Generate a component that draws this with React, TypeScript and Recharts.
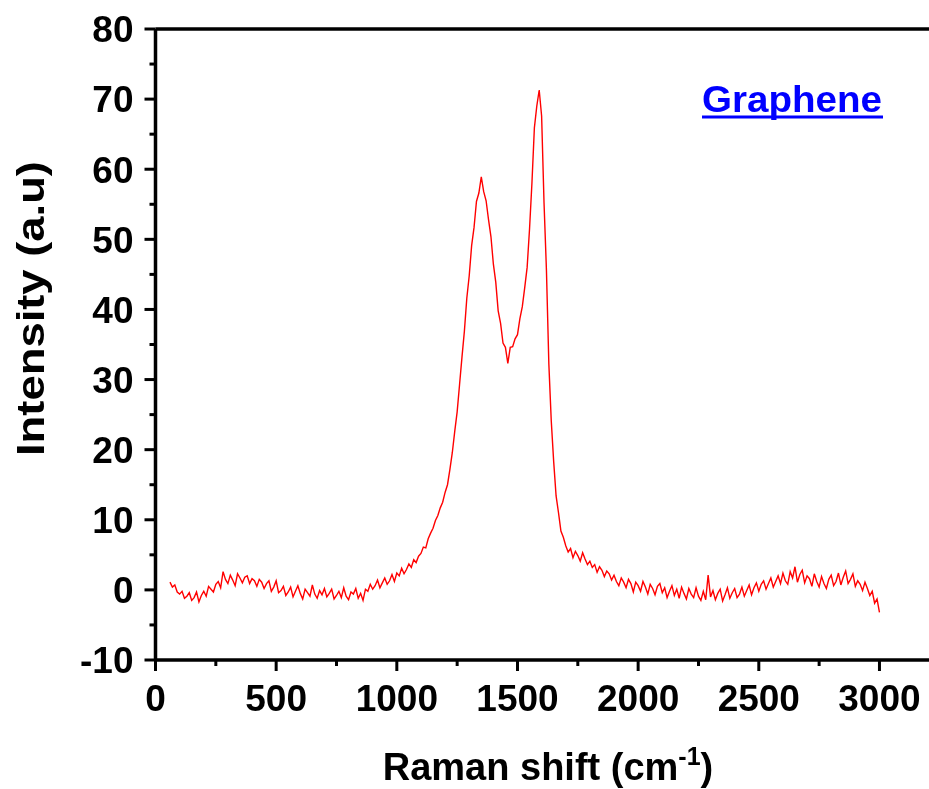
import React from 'react';
import { LineChart, Line, XAxis, YAxis, ReferenceLine, Label } from 'recharts';

// Raman shift sampling: 60 ... 3000 cm-1, every 10 cm-1
const SHIFT_START = 60;
const SHIFT_STEP = 10;

// Intensity (a.u), rows grouped by hundreds of cm-1
const intensity: number[] = [
  1.1, 0.4, 0.7, -0.3, // 60-90
  -0.6, -0.2, -1.2, -0.9, -0.4, -1.5, -1.1, -0.3, -1.7, -0.8, // 100
  -0.2, -0.9, 0.5, 0.1, -0.3, 0.8, 1.2, 0.3, 2.6, 1.5, // 200
  0.9, 2.1, 1.4, 0.6, 2.3, 1.7, 1.0, 1.8, 2.0, 0.9, // 300
  1.6, 1.3, 0.5, 1.5, 1.1, 0.2, 0.9, 1.3, -0.2, 0.4, // 400
  1.3, -0.4, -0.1, 0.5, -0.8, -0.3, 0.4, -1.0, -0.2, 0.6, // 500
  -0.5, -1.3, 0.1, -0.4, -0.9, 0.7, -0.6, -1.2, -0.1, -0.7, // 600
  0.2, -1.0, -0.5, 0.1, -1.3, -0.8, -0.2, -1.1, 0.3, -0.9, // 700
  -1.4, -0.3, -0.6, 0.2, -1.2, -0.5, -1.5, 0.1, -0.2, 0.8, // 800
  0.1, 0.6, 1.4, 0.3, 1.0, 1.7, 0.8, 1.3, 2.2, 1.2, // 900
  2.4, 2.0, 3.1, 2.3, 2.9, 3.7, 3.2, 4.3, 3.9, 4.8, // 1000
  5.2, 6.1, 6.0, 7.3, 8.1, 8.8, 9.9, 10.6, 11.7, 12.5, // 1100
  13.9, 15.0, 17.2, 19.6, 22.6, 25.4, 29.3, 33.2, 36.9, 41.6, // 1200
  44.8, 49.1, 51.7, 55.4, 56.6, 58.9, 56.8, 55.5, 52.8, 50.4, // 1300
  46.5, 43.9, 39.8, 38.0, 35.2, 34.6, 32.3, 34.6, 34.7, 35.8, // 1400
  36.4, 38.7, 40.4, 43.1, 46.0, 51.5, 58.1, 65.9, 69.0, 71.3, // 1500
  67.6, 55.2, 45.6, 32.2, 24.1, 18.3, 13.4, 11.0, 8.4, 7.5, // 1600
  6.3, 5.4, 5.9, 4.6, 5.5, 4.9, 4.1, 5.3, 4.4, 3.6, // 1700
  4.1, 3.2, 3.6, 2.5, 3.3, 2.8, 1.9, 2.7, 2.3, 1.4, // 1800
  2.1, 1.2, 0.6, 1.7, 1.1, 0.3, 1.5, 0.9, -0.3, 1.1, // 1900
  0.6, -0.2, 1.2, 0.4, -0.6, 0.8, 0.2, -0.7, 0.5, 0.9, // 2000
  -0.4, 0.3, -1.1, -0.2, 0.6, -0.8, 0.1, -1.2, 0.4, -0.5, // 2100
  -1.3, 0.2, -0.6, -1.1, 0.3, -0.9, -1.5, -0.2, -1.4, 2.1, // 2200
  -1.0, -0.1, -1.4, -0.5, 0.1, -1.6, -0.7, 0.3, -1.2, -0.4, // 2300
  0.2, -1.1, -0.6, 0.4, -0.9, -0.1, 0.7, -0.7, 0.3, 1.0, // 2400
  -0.2, 0.8, 1.3, 0.1, 0.9, 1.7, 0.4, 1.2, 2.0, 0.9, // 2500
  2.4, 1.3, 0.8, 2.6, 1.7, 3.3, 1.1, 2.2, 2.8, 1.0, // 2600
  2.0, 1.6, 0.5, 2.3, 1.2, 0.4, 1.9, 0.9, 0.2, 1.5, // 2700
  2.1, 0.6, 1.2, 2.4, 0.7, 1.8, 2.7, 0.9, 1.5, 2.3, // 2800
  0.5, 1.3, 0.8, -0.1, 1.1, 0.2, -0.8, -0.2, -1.9, -1.3, // 2900
  -3.2, // 3000
];

const xTicks = [0, 250, 500, 750, 1000, 1250, 1500, 1750, 2000, 2250, 2500, 2750, 3000];
const yTicks = [-10, -5, 0, 5, 10, 15, 20, 25, 30, 35, 40, 45, 50, 55, 60, 65, 70, 75, 80];
const X_DOMAIN: [number, number] = [0, 3284];
const Y_DOMAIN: [number, number] = [-10, 80];

const X_TITLE = 'Raman shift (cm';
const X_TITLE_SUP = '-1';
const Y_TITLE = 'Intensity (a.u)';
const SAMPLE_LABEL = 'Graphene';

const data = intensity.map((v, i) => ({ shift: SHIFT_START + i * SHIFT_STEP, intensity: v }));

const FONT = '"Liberation Sans", Arial, Helvetica, sans-serif';

const XTick = (props: any) => {
  const { x, y, payload } = props;
  const v = payload.value;
  const major = v % 500 === 0;
  return (
    <g>
      <line x1={x} x2={x} y1={y} y2={y + (major ? 11 : 6)} stroke="#000" strokeWidth={3} />
      {major && (
        <text x={x} y={y + 51} textAnchor="middle" fontFamily={FONT} fontWeight="bold" fontSize={37} fill="#000">
          {v}
        </text>
      )}
    </g>
  );
};

const YTick = (props: any) => {
  const { x, y, payload } = props;
  const v = payload.value;
  const major = v % 10 === 0;
  return (
    <g>
      <line x1={x} x2={x - (major ? 11 : 6)} y1={y} y2={y} stroke="#000" strokeWidth={3} />
      {major && (
        <text x={x - 22} y={y} dy="0.36em" textAnchor="end" fontFamily={FONT} fontWeight="bold" fontSize={37} fill="#000">
          {v}
        </text>
      )}
    </g>
  );
};

const XTitle = () => (
  <text x={540} y={772} textAnchor="middle" fontFamily={FONT} fontWeight="bold" fontSize={38} fill="#000">
    {X_TITLE}
    <tspan fontSize={25} dy={-15}>{X_TITLE_SUP}</tspan>
    <tspan fontSize={38} dy={15}>)</tspan>
  </text>
);

const YTitle = () => (
  <text
    x={22}
    y={300.5}
    transform="rotate(-90 22 300.5)"
    textAnchor="middle"
    dy="0.36em"
    fontFamily={FONT}
    fontWeight="bold"
    fontSize={38}
    fill="#000"
    textLength={295}
    lengthAdjust="spacingAndGlyphs"
  >
    {Y_TITLE}
  </text>
);

const SampleTag = () => (
  <g>
    <text x={694} y={104} fontFamily={FONT} fontWeight="bold" fontSize={37} fill="#0000ff" textLength={180} lengthAdjust="spacingAndGlyphs">
      {SAMPLE_LABEL}
    </text>
    <rect x={694} y={107.5} width={181} height={3} fill="#0000ff" />
  </g>
);

export default function App() {
  return (
    <div style={{ position: 'fixed', left: 8, top: 8, width: 921, height: 781, overflow: 'hidden' }}>
      <LineChart width={940} height={781} data={data} margin={{ top: 21, right: 0, bottom: 49, left: 47.5 }}>
        <XAxis
          dataKey="shift"
          type="number"
          domain={X_DOMAIN}
          allowDataOverflow
          ticks={xTicks}
          interval={0}
          tickSize={0}
          tickMargin={0}
          tickLine={false}
          tick={XTick}
          axisLine={{ stroke: '#000', strokeWidth: 3.5 }}
          height={80}
        >
          <Label content={XTitle} />
        </XAxis>
        <YAxis
          type="number"
          domain={Y_DOMAIN}
          allowDataOverflow
          ticks={yTicks}
          interval={0}
          tickSize={0}
          tickMargin={0}
          tickLine={false}
          tick={YTick}
          axisLine={{ stroke: '#000', strokeWidth: 3.5 }}
          width={100}
        >
          <Label content={YTitle} />
        </YAxis>
        <ReferenceLine y={80} stroke="#000" strokeWidth={3.5}>
          <Label content={SampleTag} />
        </ReferenceLine>
        <Line
          dataKey="intensity"
          type="linear"
          stroke="#ff0000"
          strokeWidth={1.4}
          dot={false}
          isAnimationActive={false}
        />
      </LineChart>
    </div>
  );
}
